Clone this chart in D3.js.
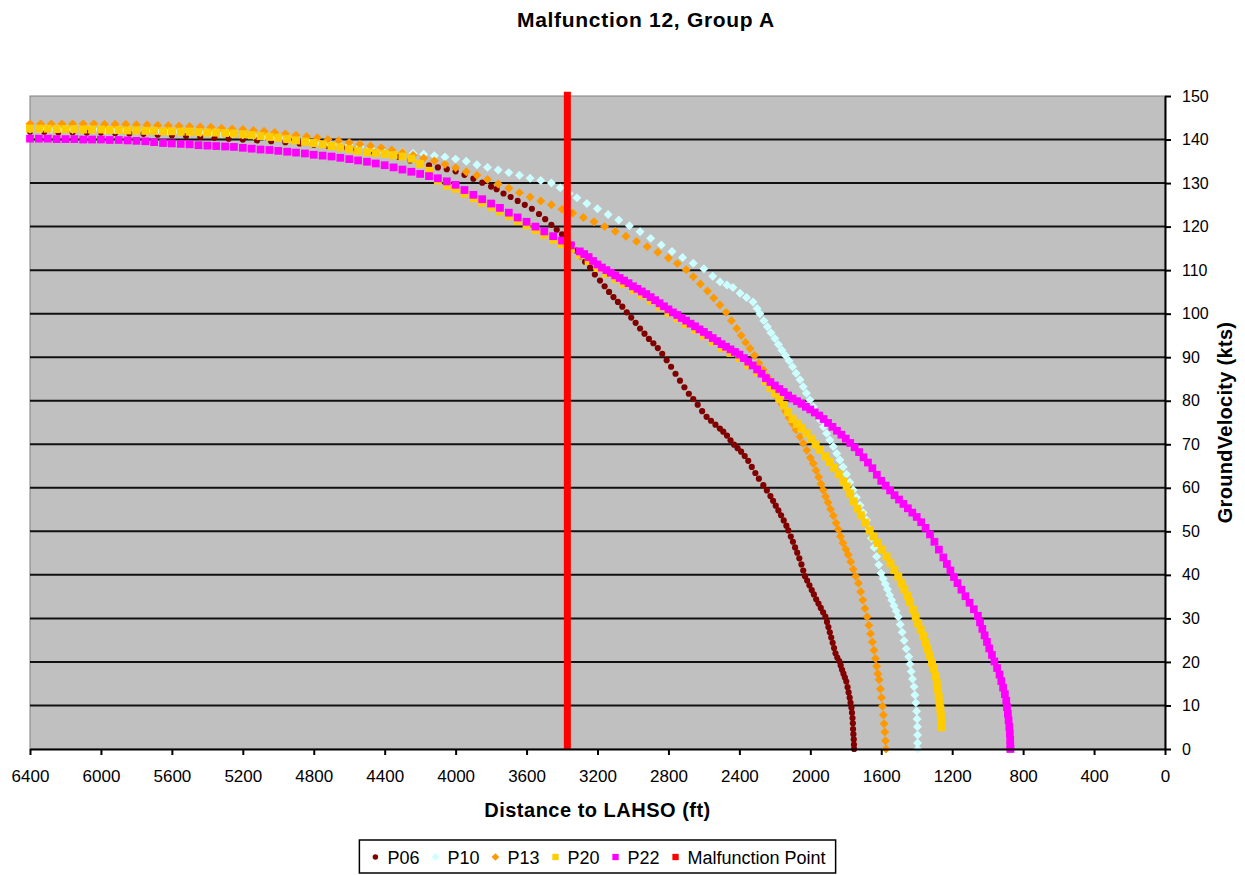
<!DOCTYPE html>
<html>
<head>
<meta charset="utf-8">
<script src="https://cdn.jsdelivr.net/npm/d3@7"></script>
<style>
  body { margin: 0; background: #fff; }
  text { font-family: "Liberation Sans", Arial, sans-serif; fill: #000; }
</style>
</head>
<body>
<svg id="chart" width="1245" height="875"></svg>
<script>
// [distance to LAHSO (ft), ground velocity (kts)]
const P06 = [[6400,141.8],[6320,141.8],[6240,141.7],[6160,141.7],[6080,141.6],[6000,141.6],[5920,141.5],[5840,141.4],[5760,141.3],[5680,141.1],[5600,141.0],[5520,140.8],[5440,140.6],[5360,140.4],[5280,140.2],[5200,140.0],[5120,139.8],[5040,139.6],[4960,139.4],[4880,139.1],[4800,138.8],[4720,138.5],[4640,138.1],[4560,137.7],[4480,137.3],[4400,136.8],[4320,136.0],[4257,135.2],[4200,134.5],[4150,134.1],[4100,133.6],[4050,133.2],[4000,132.7],[3950,131.9],[3900,131.0],[3850,130.1],[3800,129.2],[3769,128.6],[3730,127.6],[3690,126.8],[3650,125.9],[3610,125.0],[3570,124.1],[3530,122.9],[3495,121.7],[3460,120.4],[3430,119.3],[3400,118.2],[3373,117.2],[3345,115.8],[3320,114.5],[3295,113.2],[3270,111.9],[3242,110.6],[3215,109.0],[3186,107.6],[3160,106.3],[3135,105.0],[3110,103.8],[3085,102.7],[3060,101.6],[3035,100.3],[3010,99.1],[2985,97.9],[2960,96.6],[2935,95.4],[2910,94.2],[2885,93.2],[2860,92.1],[2835,90.8],[2810,89.3],[2785,87.8],[2760,86.2],[2735,84.6],[2710,83.1],[2685,81.6],[2660,80.4],[2635,79.1],[2610,77.6],[2585,76.3],[2560,75.4],[2535,74.5],[2510,73.6],[2491,72.9],[2470,72.0],[2450,70.9],[2430,69.9],[2410,69.1],[2390,68.3],[2370,67.3],[2350,66.2],[2330,64.8],[2310,63.4],[2290,62.1],[2265,60.6],[2245,59.4],[2225,58.1],[2210,57.0],[2195,55.9],[2180,54.8],[2165,53.7],[2150,52.5],[2135,51.3],[2124,50.2],[2110,48.8],[2098,47.6],[2086,46.3],[2074,45.1],[2062,43.8],[2050,42.4],[2040,41.0],[2030,39.7],[2018,38.7],[2005,37.6],[1992,36.5],[1980,35.5],[1967,34.4],[1954,33.4],[1941,32.4],[1928,31.4],[1915,30.4],[1906,29.2],[1898,28.0],[1890,26.8],[1882,25.6],[1874,24.4],[1866,23.2],[1858,22.0],[1848,21.0],[1837,20.2],[1829,19.2],[1821,18.2],[1813,17.3],[1805,16.4],[1797,15.5],[1790,14.2],[1784,13.0],[1778,11.8],[1773,10.6],[1768,9.5],[1765,8.3],[1762,7.1],[1760,5.9],[1759,4.6],[1757,3.4],[1755,2.2],[1754,1.0],[1753,0]];

const P10 = [[6400,142.4],[6340,142.4],[6280,142.4],[6220,142.4],[6160,142.3],[6100,142.3],[6040,142.3],[5980,142.2],[5920,142.2],[5860,142.1],[5800,142.1],[5740,142.0],[5680,142.0],[5620,141.9],[5560,141.8],[5500,141.7],[5440,141.6],[5380,141.5],[5320,141.4],[5260,141.3],[5200,141.1],[5140,140.9],[5080,140.7],[5020,140.5],[4960,140.3],[4900,140.0],[4840,139.8],[4780,139.5],[4720,139.3],[4660,139.0],[4600,138.7],[4540,138.4],[4480,138.0],[4420,137.7],[4360,137.4],[4300,137.1],[4240,136.8],[4180,136.6],[4120,136.3],[4060,136.0],[4000,135.5],[3940,135.0],[3880,134.2],[3820,133.6],[3760,133.0],[3700,132.4],[3640,131.8],[3580,131.1],[3520,130.6],[3460,130.0],[3410,128.9],[3360,127.6],[3316,126.6],[3260,125.3],[3200,124.1],[3140,122.8],[3080,121.5],[3020,120.2],[2960,118.8],[2900,117.3],[2840,115.8],[2780,114.3],[2720,112.9],[2660,111.6],[2600,110.3],[2550,108.6],[2509,107.3],[2470,106.6],[2436,106.0],[2396,104.7],[2360,103.7],[2323,102.7],[2300,101.2],[2284,100.0],[2262,98.4],[2242,97.0],[2222,95.6],[2200,94.3],[2180,92.9],[2160,91.6],[2140,90.4],[2120,89.2],[2100,87.8],[2080,86.3],[2058,84.8],[2040,83.2],[2022,81.7],[2002,80.2],[1983,78.6],[1964,77.1],[1945,75.6],[1926,74.0],[1908,72.5],[1890,71.0],[1870,69.5],[1851,67.9],[1833,66.4],[1815,64.8],[1796,63.1],[1777,61.3],[1758,59.5],[1740,57.8],[1720,56.0],[1702,54.3],[1683,52.6],[1669,50.5],[1655,48.4],[1640,46.3],[1626,44.2],[1614,42.3],[1601,40.4],[1589,39.1],[1577,37.9],[1565,36.7],[1553,35.4],[1541,34.2],[1528,32.9],[1516,31.7],[1504,30.4],[1493,28.6],[1482,26.8],[1471,24.9],[1459,23.0],[1445,21.2],[1438,19.5],[1431,17.8],[1424,16.1],[1415,14.3],[1410,12.4],[1405,10.6],[1401,8.7],[1398,6.9],[1396,5.1],[1395,3.2],[1395,1.4],[1395,0]];

const P13 = [[6400,143.6],[6340,143.6],[6280,143.6],[6220,143.6],[6160,143.6],[6100,143.6],[6040,143.6],[5980,143.5],[5920,143.5],[5860,143.5],[5800,143.4],[5740,143.4],[5680,143.3],[5620,143.2],[5560,143.1],[5500,143.0],[5440,142.9],[5380,142.8],[5320,142.6],[5260,142.4],[5200,142.3],[5140,142.1],[5080,141.9],[5020,141.6],[4960,141.3],[4900,141.0],[4840,140.7],[4780,140.4],[4720,140.0],[4660,139.7],[4600,139.3],[4540,138.9],[4480,138.5],[4420,138.1],[4360,137.6],[4300,137.0],[4240,136.4],[4180,135.7],[4120,135.1],[4060,134.3],[4000,133.5],[3940,132.6],[3880,131.8],[3820,130.8],[3760,129.8],[3700,128.8],[3640,127.8],[3580,126.8],[3520,125.9],[3460,125.0],[3400,124.0],[3340,123.1],[3280,122.1],[3220,121.1],[3160,120.0],[3100,118.9],[3040,117.8],[2980,116.6],[2920,115.4],[2860,114.1],[2800,112.8],[2750,111.5],[2700,110.1],[2660,108.5],[2620,106.8],[2580,105.2],[2545,103.6],[2510,102.0],[2475,100.3],[2445,98.4],[2415,96.6],[2390,95.0],[2365,93.4],[2340,92.0],[2315,90.4],[2290,88.6],[2265,87.1],[2243,85.5],[2222,83.9],[2200,82.3],[2180,80.6],[2160,79.2],[2140,77.6],[2120,76.1],[2100,74.7],[2080,73.3],[2058,71.7],[2040,70.2],[2020,68.6],[2000,66.9],[1983,65.6],[1968,64.0],[1953,62.5],[1940,60.9],[1927,59.5],[1914,58.0],[1900,56.6],[1886,55.1],[1870,53.6],[1855,51.9],[1842,50.4],[1830,48.8],[1816,47.3],[1800,45.9],[1786,44.6],[1772,43.0],[1758,41.3],[1744,39.7],[1729,38.1],[1716,36.1],[1704,34.2],[1692,32.3],[1680,30.4],[1670,28.4],[1660,26.5],[1650,24.6],[1641,22.7],[1633,20.8],[1626,19.0],[1619,17.3],[1612,15.9],[1605,13.8],[1599,11.8],[1593,9.8],[1588,7.8],[1584,5.8],[1580,3.9],[1576,1.9],[1573,0]];

const P20 = [[6400,142.5],[6350,142.5],[6300,142.5],[6250,142.4],[6200,142.4],[6150,142.4],[6100,142.3],[6050,142.3],[6000,142.3],[5950,142.2],[5900,142.2],[5850,142.1],[5800,142.1],[5750,142.0],[5700,142.0],[5650,141.9],[5600,141.9],[5550,141.8],[5500,141.8],[5450,141.7],[5400,141.6],[5350,141.6],[5300,141.5],[5250,141.4],[5200,141.2],[5150,141.0],[5100,140.8],[5050,140.6],[5000,140.4],[4950,140.1],[4900,139.8],[4850,139.5],[4800,139.2],[4750,138.9],[4700,138.5],[4650,138.2],[4600,137.8],[4550,137.4],[4500,137.1],[4450,136.9],[4400,136.7],[4350,136.4],[4300,136.1],[4250,135.6],[4200,134.4],[4150,132.8],[4100,130.6],[4050,129.4],[4000,128.7],[3950,127.6],[3900,126.5],[3850,125.5],[3800,124.5],[3750,123.5],[3700,122.4],[3650,121.3],[3600,120.3],[3550,119.2],[3500,118.1],[3450,117.0],[3400,116.0],[3350,114.9],[3300,113.5],[3250,112.1],[3200,110.5],[3150,109.2],[3100,108.0],[3050,106.8],[3000,105.5],[2950,104.3],[2900,103.0],[2850,101.6],[2800,100.2],[2750,98.9],[2700,97.6],[2650,96.3],[2600,95.0],[2550,93.6],[2500,92.2],[2450,91.0],[2400,89.8],[2350,88.2],[2300,86.5],[2250,84.5],[2225,83.0],[2200,81.7],[2175,80.4],[2150,79.0],[2125,77.4],[2100,75.8],[2075,74.7],[2050,73.7],[2021,72.5],[1995,71.2],[1970,69.9],[1945,68.7],[1915,67.2],[1890,65.9],[1865,64.6],[1840,63.1],[1815,61.5],[1795,60.3],[1775,58.7],[1755,56.9],[1735,55.2],[1715,53.7],[1690,52.0],[1665,50.2],[1645,48.8],[1620,47.3],[1595,45.8],[1570,44.2],[1548,42.7],[1526,41.1],[1504,39.6],[1486,38.1],[1470,36.7],[1454,35.2],[1438,33.8],[1422,32.0],[1406,30.4],[1392,28.9],[1378,27.4],[1364,25.9],[1350,24.4],[1338,23.0],[1326,21.5],[1314,19.9],[1303,18.5],[1294,16.8],[1287,15.2],[1281,13.7],[1276,12.1],[1271,10.6],[1267,9.2],[1264,7.7],[1261,6.3],[1259,5.0]];

const P22 = [[6400,140.2],[6350,140.2],[6300,140.2],[6250,140.1],[6200,140.1],[6150,140.1],[6100,140.0],[6050,140.0],[6000,140.0],[5950,139.9],[5900,139.9],[5850,139.8],[5800,139.7],[5750,139.6],[5700,139.4],[5650,139.2],[5600,139.1],[5550,139.0],[5500,138.9],[5450,138.7],[5400,138.6],[5350,138.5],[5300,138.4],[5250,138.3],[5200,138.1],[5150,137.9],[5100,137.7],[5050,137.6],[5000,137.4],[4950,137.2],[4900,137.0],[4850,136.8],[4800,136.5],[4750,136.3],[4700,136.1],[4650,135.8],[4600,135.5],[4550,135.2],[4500,134.9],[4450,134.5],[4400,134.1],[4350,133.6],[4300,133.1],[4250,132.6],[4200,132.1],[4150,131.6],[4100,131.1],[4050,130.4],[4000,129.6],[3950,128.4],[3900,127.3],[3850,126.3],[3800,125.3],[3750,124.3],[3700,123.2],[3650,122.1],[3600,121.1],[3550,120.0],[3500,118.9],[3450,117.8],[3400,116.8],[3350,115.7],[3300,114.3],[3275,113.7],[3250,113.0],[3225,112.1],[3200,111.3],[3175,110.6],[3150,110.0],[3125,109.4],[3100,108.8],[3075,108.2],[3050,107.6],[3025,107.0],[3000,106.3],[2975,105.7],[2950,105.1],[2925,104.5],[2900,103.8],[2875,103.1],[2850,102.4],[2825,101.7],[2800,101.0],[2775,100.3],[2750,99.7],[2725,99.0],[2700,98.4],[2675,97.7],[2650,97.1],[2625,96.4],[2600,95.8],[2575,95.1],[2550,94.4],[2525,93.7],[2500,93.0],[2475,92.4],[2450,91.8],[2425,91.2],[2400,90.6],[2375,89.8],[2350,89.0],[2325,88.1],[2300,87.2],[2275,86.2],[2250,85.2],[2225,84.3],[2200,83.5],[2175,82.7],[2150,82.0],[2125,81.2],[2100,80.5],[2075,79.9],[2050,79.3],[2025,78.6],[2000,78.0],[1975,77.3],[1950,76.6],[1925,75.8],[1900,74.9],[1875,74.0],[1850,73.1],[1825,72.2],[1800,71.3],[1775,70.3],[1750,69.3],[1725,68.2],[1700,67.0],[1675,65.8],[1650,64.5],[1625,63.0],[1600,61.6],[1575,60.5],[1550,59.4],[1525,58.3],[1500,57.3],[1475,56.3],[1450,55.3],[1425,54.3],[1400,53.3],[1375,52.1],[1350,50.8],[1325,49.3],[1300,47.6],[1275,45.8],[1250,44.0],[1230,42.5],[1210,41.0],[1190,39.5],[1170,38.1],[1148,36.6],[1125,35.1],[1102,33.6],[1078,32.1],[1055,30.6],[1043,29.1],[1030,27.6],[1017,26.1],[1004,24.6],[991,23.1],[976,21.6],[962,20.1],[947,18.6],[933,17.1],[923,15.6],[913,14.1],[903,12.6],[895,11.1],[891,9.6],[886,8.1],[882,6.6],[878,5.1],[875,3.6],[873,2.1],[872,0.6],[872,0]];

const malfunctionDistance = 3370;
const malfunctionSpeeds = [0, 151];

const xTickValues = [6400, 6000, 5600, 5200, 4800, 4400, 4000, 3600, 3200, 2800, 2400, 2000, 1600, 1200, 800, 400, 0];
const yTickValues = [0, 10, 20, 30, 40, 50, 60, 70, 80, 90, 100, 110, 120, 130, 140, 150];

const svg = d3.select("#chart");
const plot = { left: 30, right: 1165, top: 96, bottom: 749 };

const x = d3.scaleLinear().domain([6400, 0]).range([plot.left, plot.right]);
const y = d3.scaleLinear().domain([0, 150]).range([plot.bottom, plot.top]);

// plot area
svg.append("rect")
  .attr("x", plot.left).attr("y", plot.top)
  .attr("width", plot.right - plot.left).attr("height", plot.bottom - plot.top)
  .attr("fill", "#c0c0c0").attr("stroke", "#808080").attr("stroke-width", 1);

// horizontal gridlines
svg.append("g").selectAll("line")
  .data(yTickValues.filter(v => v > 0 && v < 150))
  .join("line")
  .attr("x1", plot.left).attr("x2", plot.right)
  .attr("y1", d => y(d)).attr("y2", d => y(d))
  .attr("stroke", "#111").attr("stroke-width", 2);

const series = [
  { name: "P06", data: P06, color: "#800000", symbol: d3.symbolCircle, size: 30, rotate: 0 },
  { name: "P10", data: P10, color: "#ccffff", symbol: d3.symbolSquare, size: 40, rotate: 45 },
  { name: "P13", data: P13, color: "#ff9900", symbol: d3.symbolSquare, size: 40, rotate: 45 },
  { name: "P20", data: P20, color: "#ffcc00", symbol: d3.symbolSquare, size: 64, rotate: 0 },
  { name: "P22", data: P22, color: "#ff00ff", symbol: d3.symbolSquare, size: 60, rotate: 0 }
];

series.forEach(s => {
  svg.append("g").selectAll("path")
    .data(s.data)
    .join("path")
    .attr("d", d3.symbol(s.symbol, s.size))
    .attr("transform", d => `translate(${x(d[0])},${y(d[1])}) rotate(${s.rotate})`)
    .attr("fill", s.color);
});

// malfunction point
svg.append("line")
  .attr("x1", x(malfunctionDistance)).attr("x2", x(malfunctionDistance))
  .attr("y1", y(malfunctionSpeeds[0])).attr("y2", y(malfunctionSpeeds[1]))
  .attr("stroke", "#ff0000").attr("stroke-width", 7);

// axes
const xAxis = d3.axisBottom(x).tickValues(xTickValues).tickSize(6).tickSizeOuter(0).tickPadding(15).tickFormat(d3.format("d"));
const gx = svg.append("g").attr("transform", `translate(0,${plot.bottom})`).call(xAxis);
gx.selectAll("text").style("font-size", "17px");

const yAxis = d3.axisRight(y).tickValues(yTickValues).tickSize(6).tickSizeOuter(0).tickPadding(11).tickFormat(d3.format("d"));
const gy = svg.append("g").attr("transform", `translate(${plot.right},0)`).call(yAxis);
gy.selectAll("text").style("font-size", "16px");

[gx, gy].forEach(g => {
  g.select(".domain").attr("stroke", "#000").attr("stroke-width", 2);
  g.selectAll(".tick line").attr("stroke", "#000").attr("stroke-width", 2);
  g.selectAll("text").attr("fill", "#000").style("font-family", "'Liberation Sans', Arial, sans-serif");
});

// titles
svg.append("text")
  .attr("x", 646).attr("y", 27)
  .attr("text-anchor", "middle")
  .style("font-size", "21px").style("font-weight", "bold").style("letter-spacing", "0.7px")
  .text("Malfunction 12, Group A");

svg.append("text")
  .attr("x", (plot.left + plot.right) / 2).attr("y", 817)
  .attr("text-anchor", "middle")
  .style("font-size", "20px").style("font-weight", "bold").style("letter-spacing", "0.5px")
  .text("Distance to LAHSO (ft)");

svg.append("text")
  .attr("transform", `translate(1232,${(plot.top + plot.bottom) / 2}) rotate(-90)`)
  .attr("text-anchor", "middle")
  .style("font-size", "20px").style("font-weight", "bold").style("letter-spacing", "0.3px")
  .text("GroundVelocity (kts)");

// legend
const legendItems = series.map(s => ({ name: s.name, color: s.color, symbol: s.symbol, rotate: s.rotate, size: s.symbol === d3.symbolCircle ? 24 : (s.rotate ? 30 : 40) }))
  .concat([{ name: "Malfunction Point", color: "#ff0000", symbol: d3.symbolSquare, rotate: 0, size: 40 }]);

const legend = svg.append("g");
const legendBox = legend.append("rect").attr("fill", "#fff").attr("stroke", "#000").attr("stroke-width", 1.5);
let cursor = 0;
const legendY = 857;
legendItems.forEach(item => {
  legend.append("path")
    .attr("d", d3.symbol(item.symbol, item.size))
    .attr("transform", `translate(${cursor + 6},${legendY}) rotate(${item.rotate})`)
    .attr("fill", item.color);
  const t = legend.append("text")
    .attr("x", cursor + 18).attr("y", legendY + 6.5)
    .style("font-size", "18px")
    .text(item.name);
  cursor += 18 + t.node().getComputedTextLength() + 10;
});
const legendWidth = cursor - 10 + 20;
const legendLeft = (plot.left + plot.right) / 2 - legendWidth / 2;
legendBox.attr("x", -10).attr("y", 840).attr("width", legendWidth).attr("height", 33);
legend.attr("transform", `translate(${legendLeft + 10},0)`);
</script>
</body>
</html>
